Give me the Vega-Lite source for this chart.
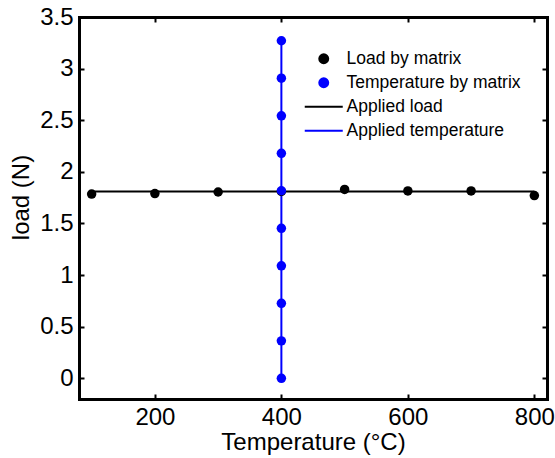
{
  "$schema": "https://vega.github.io/schema/vega-lite/v6.json",
  "autosize": {"type": "none"},
  "padding": {"left": 79, "top": 17, "right": 8, "bottom": 59},
  "width": 468,
  "height": 382,
  "background": "white",
  "config": {
    "view": {"stroke": null},
    "font": "Liberation Sans",
    "axis": {
      "grid": false,
      "domainColor": "black",
      "domainWidth": 3,
      "domainCap": "square",
      "tickColor": "black",
      "tickWidth": 2,
      "tickSize": -5,
      "labelFont": "Liberation Sans",
      "labelFontSize": 24,
      "labelColor": "black",
      "titleFont": "Liberation Sans",
      "titleFontSize": 24,
      "titleFontWeight": "normal",
      "titleColor": "black"
    }
  },
  "data": {
    "values": [
      {"series": "Applied load", "kind": "line", "temp": 100, "load": 1.81},
      {"series": "Applied load", "kind": "line", "temp": 800, "load": 1.81},
      {"series": "Applied temperature", "kind": "line", "temp": 400, "load": 0},
      {"series": "Applied temperature", "kind": "line", "temp": 400, "load": 3.27},
      {"series": "Load by matrix", "kind": "point", "temp": 100, "load": 1.785},
      {"series": "Load by matrix", "kind": "point", "temp": 200, "load": 1.79},
      {"series": "Load by matrix", "kind": "point", "temp": 300, "load": 1.805},
      {"series": "Load by matrix", "kind": "point", "temp": 400, "load": 1.81},
      {"series": "Load by matrix", "kind": "point", "temp": 500, "load": 1.83},
      {"series": "Load by matrix", "kind": "point", "temp": 600, "load": 1.815},
      {"series": "Load by matrix", "kind": "point", "temp": 700, "load": 1.815},
      {"series": "Load by matrix", "kind": "point", "temp": 800, "load": 1.77},
      {"series": "Temperature by matrix", "kind": "point", "temp": 400, "load": 0},
      {"series": "Temperature by matrix", "kind": "point", "temp": 400, "load": 0.363},
      {"series": "Temperature by matrix", "kind": "point", "temp": 400, "load": 0.727},
      {"series": "Temperature by matrix", "kind": "point", "temp": 400, "load": 1.09},
      {"series": "Temperature by matrix", "kind": "point", "temp": 400, "load": 1.453},
      {"series": "Temperature by matrix", "kind": "point", "temp": 400, "load": 1.817},
      {"series": "Temperature by matrix", "kind": "point", "temp": 400, "load": 2.18},
      {"series": "Temperature by matrix", "kind": "point", "temp": 400, "load": 2.543},
      {"series": "Temperature by matrix", "kind": "point", "temp": 400, "load": 2.907},
      {"series": "Temperature by matrix", "kind": "point", "temp": 400, "load": 3.27}
    ]
  },
  "layer": [
    {
      "transform": [{"filter": "datum.kind === 'line'"}],
      "mark": {"type": "line", "strokeWidth": 2},
      "encoding": {
        "x": {
          "field": "temp", "type": "quantitative",
          "scale": {"domain": [80, 820], "nice": false, "zero": false},
          "axis": {"orient": "bottom", "values": [200, 400, 600, 800], "labelPadding": 11, "title": "Temperature (°C)", "titlePadding": 1}
        },
        "y": {
          "field": "load", "type": "quantitative",
          "scale": {"domain": [-0.2, 3.5], "nice": false, "zero": false},
          "axis": {"orient": "left", "values": [0, 0.5, 1, 1.5, 2, 2.5, 3, 3.5], "format": "~g", "labelPadding": 11, "title": "load (N)", "titlePadding": 6, "titleY": 180}
        },
        "color": {
          "field": "series", "type": "nominal",
          "scale": {
            "domain": ["Load by matrix", "Temperature by matrix", "Applied load", "Applied temperature"],
            "range": ["#000000", "#0000ff", "#000000", "#0000ff"]
          },
          "legend": {
            "title": null,
            "orient": "none",
            "legendX": 236,
            "legendY": 33,
            "padding": 0,
            "labelFont": "Liberation Sans",
            "labelFontSize": 17.5,
            "labelColor": "black",
            "labelLimit": 400,
            "labelOffset": 14,
            "rowPadding": 5,
            "symbolSize": 80,
            "symbolStrokeWidth": 2,
            "encode": {
              "symbols": {
                "update": {
                  "shape": {"signal": "indexof(['Applied load','Applied temperature'], datum.value) >= 0 ? 'stroke' : 'circle'"},
                  "size": {"signal": "indexof(['Applied load','Applied temperature'], datum.value) >= 0 ? 1444 : 80"},
                  "fill": {"scale": "color", "field": "value"},
                  "stroke": {"scale": "color", "field": "value"},
                  "strokeWidth": {"value": 2},
                  "opacity": {"value": 1},
                  "fillOpacity": {"value": 1}
                }
              }
            }
          }
        }
      }
    },
    {
      "transform": [{"filter": "datum.kind === 'point'"}],
      "mark": {"type": "point", "shape": "circle", "filled": true, "size": 90, "opacity": 1},
      "encoding": {
        "x": {
          "field": "temp", "type": "quantitative",
          "scale": {"domain": [80, 820], "nice": false, "zero": false},
          "axis": {"orient": "top", "values": [200, 400, 600, 800], "labels": false, "title": null}
        },
        "y": {
          "field": "load", "type": "quantitative",
          "scale": {"domain": [-0.2, 3.5], "nice": false, "zero": false},
          "axis": {"orient": "right", "values": [0, 0.5, 1, 1.5, 2, 2.5, 3, 3.5], "labels": false, "title": null}
        },
        "color": {"field": "series", "type": "nominal"}
      }
    }
  ],
  "resolve": {"axis": {"x": "independent", "y": "independent"}}
}
